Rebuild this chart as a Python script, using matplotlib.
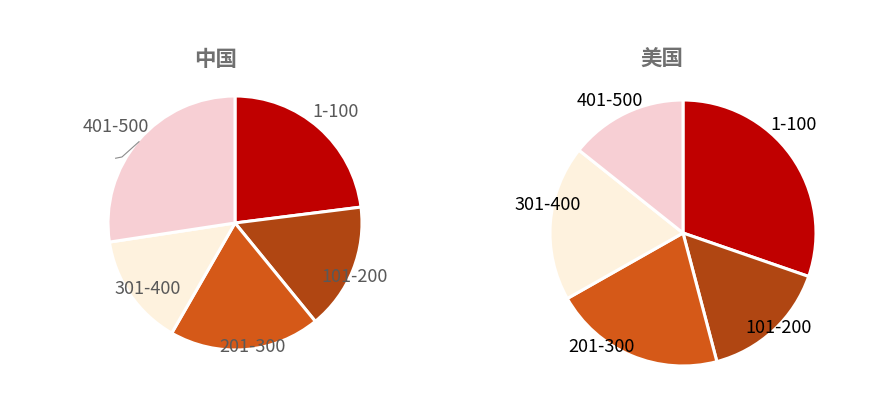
import matplotlib
matplotlib.use("Agg")
import matplotlib.pyplot as plt

plt.rcParams['font.family'] = ['Noto Sans CJK SC', 'DejaVu Sans']

categories = ["1-100", "101-200", "201-300", "301-400", "401-500"]
china_values = [23.0, 16.1, 19.2, 14.3, 27.4]
usa_values = [30.3, 15.6, 20.9, 18.9, 14.3]
titles = ["中国", "美国"]

colors = ["#C00000", "#B04612", "#D55918", "#FEF2DE", "#F7CFD4"]

W, H = 894, 406
fig = plt.figure(figsize=(W / 100, H / 100), dpi=100)

# pixel layout: center x, center y (from top), radius
layouts = [(235, 224, 127), (683, 234, 133)]
label_pos = [
    [(0.795, 0.88), (0.945, -0.42), (0.134, -0.97), (-0.685, -0.51), (-0.94, 0.76)],
    [(0.83, 0.82), (0.72, -0.71), (-0.61, -0.85), (-1.015, 0.22), (-0.55, 1.0)],
]
label_colors = ["#595959", "#000000"]
title_px = [(216, 59), (662, 59)]

for i, vals in enumerate([china_values, usa_values]):
    cx, cy, r = layouts[i]
    ax = fig.add_axes([(cx - r) / W, (H - cy - r) / H, 2 * r / W, 2 * r / H])
    ax.pie(vals, colors=colors, startangle=90, counterclock=False,
           wedgeprops=dict(edgecolor="white", linewidth=2.2))
    ax.set_xlim(-1, 1)
    ax.set_ylim(-1, 1)
    ax.set_aspect("auto")
    ax.axis("off")
    for (lx, ly), lab in zip(label_pos[i], categories):
        ax.text(lx, ly, lab, ha="center", va="center", fontsize=13,
                color=label_colors[i], clip_on=False)
    if i == 0:
        # leader line for 401-500
        ax.plot([-0.756, -0.89, -0.94], [0.64, 0.52, 0.51], color="#8c8c8c",
                linewidth=0.8, clip_on=False)
    tx, ty = title_px[i]
    fig.text(tx / W, 1 - ty / H, titles[i], ha="center", va="center",
             fontsize=15.5, fontweight="bold", color="#707070")

fig.savefig("out.png", dpi=100, facecolor="white")
